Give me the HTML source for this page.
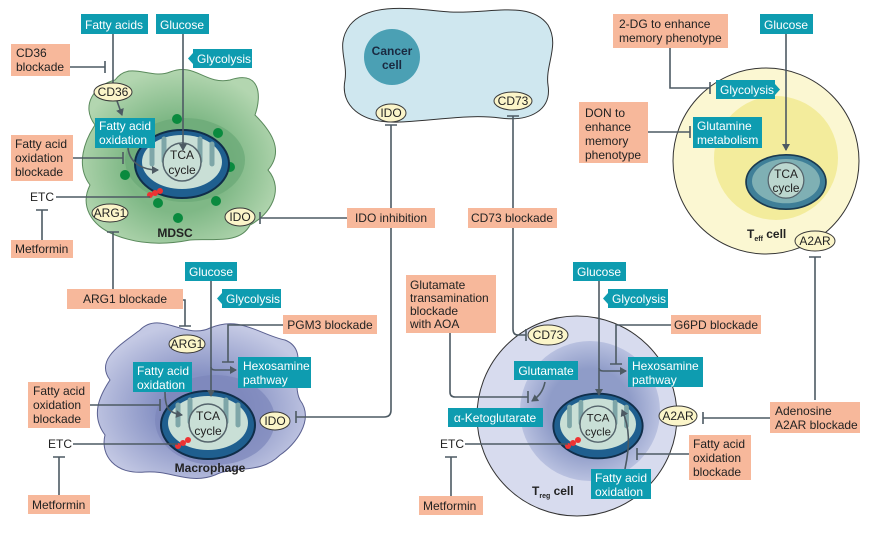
<!DOCTYPE html>
<html><head><meta charset="utf-8"><style>
html,body{margin:0;padding:0;background:#fff;}
svg{display:block;font-family:"Liberation Sans",sans-serif;}
.t{fill:#fff;font-size:12px;}
.k{fill:#222;font-size:12px;}
.tl{fill:#0e9cb0;}
.sa{fill:#f7b89b;}
.ln{stroke:#4d5a63;stroke-width:1.6;fill:none;}
.el{fill:#fbf5c9;stroke:#3a3a3a;stroke-width:1;}
</style></head><body>
<svg width="872" height="533" viewBox="0 0 872 533" xmlns="http://www.w3.org/2000/svg">
<defs>
<marker id="ar" markerWidth="8" markerHeight="8" refX="6" refY="4" orient="auto" markerUnits="userSpaceOnUse"><path d="M0,0 L7,4 L0,8 Z" fill="#4d5a63"/></marker>
<radialGradient id="gg" cx="0.5" cy="0.55" r="0.55"><stop offset="0.5" stop-color="#7fb886"/><stop offset="1" stop-color="#b3d6b0"/></radialGradient>
<radialGradient id="pg" cx="0.5" cy="0.55" r="0.55"><stop offset="0.4" stop-color="#8792c4"/><stop offset="1" stop-color="#c4c9e4"/></radialGradient>
<radialGradient id="tg" cx="0.5" cy="0.5" r="0.5"><stop offset="0.6" stop-color="#8f9cc8"/><stop offset="1" stop-color="#b9c1e0"/></radialGradient>
<g id="mito">
<ellipse cx="0" cy="0" rx="47" ry="34" fill="#1f5f8f" stroke="#102e4a" stroke-width="2"/>
<ellipse cx="0" cy="-2" rx="40" ry="27" fill="#c9dfd6"/>
<path d="M-30,-20 v20 M-18,-25 v22 M18,-25 v22 M30,-20 v20" stroke="#7ea6a8" stroke-width="5" stroke-linecap="round"/>
<circle cx="0" cy="-2" r="19" fill="#c9dfd6" stroke="#55646c" stroke-width="1.5"/>
<text x="0" y="-5" text-anchor="middle" style="font-size:12px;fill:#222">TCA</text>
<text x="0" y="10" text-anchor="middle" style="font-size:12px;fill:#222">cycle</text>
</g>
</defs>

<!-- MDSC -->
<path d="M115,80 C130,60 150,80 170,72 C195,62 205,85 230,80 C260,70 262,95 255,115 C270,130 285,150 268,170 C285,190 270,215 250,225 C240,245 210,238 190,240 C165,245 140,245 115,235 C90,225 80,205 90,185 C75,165 85,140 95,125 C80,105 95,85 115,80 Z" fill="url(#gg)" stroke="#5a8a5c" stroke-width="1"/>
<ellipse cx="185" cy="160" rx="60" ry="42" fill="#6aa876" opacity="0.7"/>
<g fill="#0a8a3e"><circle cx="177" cy="119" r="5"/><circle cx="218" cy="133" r="5"/><circle cx="230" cy="167" r="5"/><circle cx="125" cy="175" r="5"/><circle cx="158" cy="203" r="5"/><circle cx="178" cy="218" r="5"/><circle cx="216" cy="201" r="5"/></g>
<use href="#mito" transform="translate(182,164)"/>
<circle cx="150" cy="195" r="3" fill="#e33"/><circle cx="155" cy="193" r="3" fill="#e33"/><circle cx="160" cy="191" r="3" fill="#e33"/>
<text x="175" y="237" text-anchor="middle" style="font-size:12px;font-weight:bold;fill:#222">MDSC</text>

<!-- Cancer cell -->
<path d="M350,25 C370,0 420,10 450,12 C490,14 530,0 548,25 C560,45 545,65 548,85 C552,110 530,122 500,118 C470,114 440,120 400,122 C360,124 340,105 345,80 C348,60 335,45 350,25 Z" fill="#cfe7ef" stroke="#333" stroke-width="1"/>
<circle cx="392" cy="57" r="28" fill="#4ba0b4"/>
<text x="392" y="55" text-anchor="middle" style="font-size:12px;font-weight:bold;fill:#1a2a40">Cancer</text>
<text x="392" y="69" text-anchor="middle" style="font-size:12px;font-weight:bold;fill:#1a2a40">cell</text>

<!-- Teff -->
<circle cx="766" cy="161" r="93" fill="#fbf7d2" stroke="#333" stroke-width="1"/>
<circle cx="776" cy="158" r="62" fill="#f3ec9c"/>
<g transform="translate(786,182) scale(0.85)">
<ellipse cx="0" cy="0" rx="47" ry="32" fill="#3f7f98" stroke="#1a3a50" stroke-width="2"/>
<ellipse cx="0" cy="-1" rx="40" ry="26" fill="#7fb0b4"/>
<circle cx="0" cy="-2" r="21" fill="#bcd7cf" stroke="#55646c" stroke-width="1.5"/>
<text x="0" y="-5" text-anchor="middle" style="font-size:14px;fill:#222">TCA</text>
<text x="0" y="12" text-anchor="middle" style="font-size:14px;fill:#222">cycle</text>
</g>
<text x="747" y="238" style="font-size:12px;font-weight:bold;fill:#222">T<tspan dy="3" style="font-size:7px">eff</tspan><tspan dy="-3"> cell</tspan></text>

<!-- Macrophage -->
<path d="M140,330 C160,310 185,340 210,328 C240,315 260,335 285,340 C310,350 290,380 300,400 C315,420 295,445 280,455 C260,475 235,465 215,475 C190,485 170,470 145,472 C115,475 100,455 105,435 C90,415 100,395 110,380 C95,360 120,345 140,330 Z" fill="url(#pg)" stroke="#5a6090" stroke-width="1"/>
<ellipse cx="215" cy="420" rx="60" ry="45" fill="#7c86bb" opacity="0.7"/>
<use href="#mito" transform="translate(208,425)"/>
<circle cx="178" cy="446" r="3" fill="#e33"/><circle cx="183" cy="443" r="3" fill="#e33"/><circle cx="188" cy="440" r="3" fill="#e33"/>
<text x="210" y="472" text-anchor="middle" style="font-size:12px;font-weight:bold;fill:#222">Macrophage</text>

<!-- Treg -->
<circle cx="577" cy="416" r="100" fill="#d7dbee" stroke="#333" stroke-width="1"/>
<circle cx="590" cy="411" r="70" fill="url(#tg)"/>
<use href="#mito" transform="translate(598,426) scale(0.95)"/>
<circle cx="568" cy="446" r="3" fill="#e33"/><circle cx="573" cy="443" r="3" fill="#e33"/><circle cx="578" cy="440" r="3" fill="#e33"/>
<text x="532" y="495" style="font-size:12px;font-weight:bold;fill:#222">T<tspan dy="3" style="font-size:7px">reg</tspan><tspan dy="-3"> cell</tspan></text>

<!-- Lines -->
<g class="ln">
<!-- MDSC -->
<path d="M113,34 V83"/><path d="M70,67 H105 M105,61 V73"/>
<path d="M117,101 L122,115" marker-end="url(#ar)"/>
<path d="M183,34 V150" marker-end="url(#ar)"/>
<path d="M128,148 C130,165 145,170 158,170" marker-end="url(#ar)"/>
<path d="M73,158 H123 M123,152 V164"/>
<path d="M56,197 H150"/><path d="M42,240 V210 M36,210 H48"/>
<path d="M113,289 V232 M107,232 H119"/>
<path d="M347,218 H260 M260,212 V224"/>
<!-- cancer -->
<path d="M391,208 V125 M385,125 H397"/>
<path d="M513,208 V116 M507,116 H519"/>
<path d="M391,228 V410 Q391,417 384,417 H296 M296,411 V423"/>
<!-- Teff -->
<path d="M670,48 V88 H710 M710,82 V94"/>
<path d="M648,132 H690 M690,126 V138"/>
<path d="M786,34 V150" marker-end="url(#ar)"/>
<path d="M815,400 V257 M809,257 H821"/>
<!-- Macrophage -->
<path d="M183,300 H185 V326 M179,326 H191"/>
<path d="M211,280 V396" marker-end="url(#ar)"/>
<path d="M211,367 Q211,370 215,370 H236" marker-end="url(#ar)"/>
<path d="M283,325 H228 V362 M222,362 H234"/>
<path d="M165,392 C165,410 170,413 182,415" marker-end="url(#ar)"/>
<path d="M90,405 H160 M160,399 V411"/>
<path d="M73,444 H178"/><path d="M59,495 V457 M53,457 H65"/>
<!-- Treg -->
<path d="M513,228 V329 Q513,335 518,335 H526 M526,329 V341"/>
<path d="M450,333 V392 Q450,397 455,397 H528 M528,391 V403"/>
<path d="M545,382 C543,392 538,397 532,401" marker-end="url(#ar)"/>
<path d="M599,281 V395" marker-end="url(#ar)"/>
<path d="M599,368 Q599,371 603,371 H626" marker-end="url(#ar)"/>
<path d="M671,325 H616 V364 M610,364 H622"/>
<path d="M465,444 H568"/><path d="M451,496 V457 M445,457 H457"/>
<path d="M625,469 C630,445 630,428 622,410" marker-end="url(#ar)"/>
<path d="M689,454 H637 M637,448 V460"/>
<path d="M770,418 H703 M703,412 V424"/>
<path d="M256,25 V25"/>
</g>

<!-- Ellipses -->
<ellipse class="el" cx="113" cy="92" rx="19" ry="9"/><text class="k" x="113" y="96" text-anchor="middle">CD36</text>
<ellipse class="el" cx="110" cy="213" rx="18" ry="9"/><text class="k" x="110" y="217" text-anchor="middle">ARG1</text>
<ellipse class="el" cx="240" cy="217" rx="15" ry="9"/><text class="k" x="240" y="221" text-anchor="middle">IDO</text>
<ellipse class="el" cx="391" cy="113" rx="15" ry="9"/><text class="k" x="391" y="117" text-anchor="middle">IDO</text>
<ellipse class="el" cx="513" cy="101" rx="19" ry="9"/><text class="k" x="513" y="105" text-anchor="middle">CD73</text>
<ellipse class="el" cx="815" cy="241" rx="20" ry="10"/><text class="k" x="815" y="245" text-anchor="middle">A2AR</text>
<ellipse class="el" cx="187" cy="344" rx="18" ry="9"/><text class="k" x="187" y="348" text-anchor="middle">ARG1</text>
<ellipse class="el" cx="275" cy="421" rx="15" ry="9"/><text class="k" x="275" y="425" text-anchor="middle">IDO</text>
<ellipse class="el" cx="548" cy="335" rx="20" ry="10"/><text class="k" x="548" y="339" text-anchor="middle">CD73</text>
<ellipse class="el" cx="678" cy="416" rx="19" ry="10"/><text class="k" x="678" y="420" text-anchor="middle">A2AR</text>

<!-- Teal boxes -->
<g>
<rect class="tl" x="81" y="14" width="67" height="20"/><text class="t" x="114" y="29" text-anchor="middle">Fatty acids</text>
<rect class="tl" x="156" y="14" width="53" height="20"/><text class="t" x="182" y="29" text-anchor="middle">Glucose</text>
<rect class="tl" x="193" y="49" width="59" height="19"/><path class="tl" d="M193,53 L188,58.5 L193,64Z"/><text class="t" x="197" y="63">Glycolysis</text>
<rect class="tl" x="95" y="118" width="60" height="30"/><text class="t" x="99" y="130">Fatty acid</text><text class="t" x="99" y="144">oxidation</text>
<rect class="tl" x="760" y="14" width="53" height="20"/><text class="t" x="786" y="29" text-anchor="middle">Glucose</text>
<rect class="tl" x="716" y="80" width="59" height="19"/><path class="tl" d="M775,84 L780,89.5 L775,95Z"/><text class="t" x="720" y="94">Glycolysis</text>
<rect class="tl" x="693" y="117" width="69" height="31"/><text class="t" x="697" y="130">Glutamine</text><text class="t" x="697" y="144">metabolism</text>
<rect class="tl" x="185" y="262" width="52" height="19"/><text class="t" x="211" y="276" text-anchor="middle">Glucose</text>
<rect class="tl" x="222" y="289" width="59" height="19"/><path class="tl" d="M222,293 L217,298.5 L222,304Z"/><text class="t" x="226" y="303">Glycolysis</text>
<rect class="tl" x="133" y="362" width="59" height="30"/><text class="t" x="137" y="375">Fatty acid</text><text class="t" x="137" y="389">oxidation</text>
<rect class="tl" x="238" y="357" width="73" height="31"/><text class="t" x="243" y="370">Hexosamine</text><text class="t" x="243" y="384">pathway</text>
<rect class="tl" x="573" y="262" width="53" height="19"/><text class="t" x="599" y="276" text-anchor="middle">Glucose</text>
<rect class="tl" x="608" y="289" width="60" height="19"/><path class="tl" d="M608,293 L603,298.5 L608,304Z"/><text class="t" x="612" y="303">Glycolysis</text>
<rect class="tl" x="628" y="357" width="75" height="30"/><text class="t" x="632" y="370">Hexosamine</text><text class="t" x="632" y="384">pathway</text>
<rect class="tl" x="514" y="361" width="64" height="19"/><text class="t" x="546" y="375" text-anchor="middle">Glutamate</text>
<rect class="tl" x="448" y="408" width="95" height="19"/><text class="t" x="495" y="422" text-anchor="middle">α-Ketoglutarate</text>
<rect class="tl" x="591" y="469" width="60" height="30"/><text class="t" x="595" y="482">Fatty acid</text><text class="t" x="595" y="496">oxidation</text>
</g>

<!-- Salmon boxes -->
<g>
<rect class="sa" x="11" y="44" width="59" height="32"/><text class="k" x="16" y="57">CD36</text><text class="k" x="16" y="71">blockade</text>
<rect class="sa" x="11" y="135" width="62" height="46"/><text class="k" x="15" y="148">Fatty acid</text><text class="k" x="15" y="162">oxidation</text><text class="k" x="15" y="176">blockade</text>
<text class="k" x="30" y="201">ETC</text>
<rect class="sa" x="11" y="240" width="62" height="18"/><text class="k" x="15" y="253">Metformin</text>
<rect class="sa" x="347" y="208" width="88" height="20"/><text class="k" x="391" y="222" text-anchor="middle">IDO inhibition</text>
<rect class="sa" x="468" y="208" width="89" height="20"/><text class="k" x="512" y="222" text-anchor="middle">CD73 blockade</text>
<rect class="sa" x="613" y="14" width="115" height="34"/><text class="k" x="619" y="28">2-DG to enhance</text><text class="k" x="619" y="42">memory phenotype</text>
<rect class="sa" x="579" y="102" width="69" height="61"/><text class="k" x="585" y="117">DON to</text><text class="k" x="585" y="131">enhance</text><text class="k" x="585" y="145">memory</text><text class="k" x="585" y="159">phenotype</text>
<rect class="sa" x="67" y="289" width="116" height="20"/><text class="k" x="125" y="303" text-anchor="middle">ARG1 blockade</text>
<rect class="sa" x="283" y="315" width="94" height="19"/><text class="k" x="330" y="329" text-anchor="middle">PGM3 blockade</text>
<rect class="sa" x="28" y="382" width="62" height="46"/><text class="k" x="33" y="395">Fatty acid</text><text class="k" x="33" y="409">oxidation</text><text class="k" x="33" y="423">blockade</text>
<text class="k" x="48" y="448">ETC</text>
<rect class="sa" x="28" y="495" width="62" height="19"/><text class="k" x="32" y="509">Metformin</text>
<rect class="sa" x="406" y="275" width="90" height="58"/><text class="k" x="410" y="289">Glutamate</text><text class="k" x="410" y="302">transamination</text><text class="k" x="410" y="315">blockade</text><text class="k" x="410" y="328">with AOA</text>
<rect class="sa" x="671" y="315" width="90" height="19"/><text class="k" x="716" y="329" text-anchor="middle">G6PD blockade</text>
<text class="k" x="440" y="448">ETC</text>
<rect class="sa" x="419" y="496" width="64" height="19"/><text class="k" x="423" y="510">Metformin</text>
<rect class="sa" x="770" y="402" width="90" height="31"/><text class="k" x="775" y="415">Adenosine</text><text class="k" x="775" y="429">A2AR blockade</text>
<rect class="sa" x="689" y="435" width="62" height="45"/><text class="k" x="693" y="448">Fatty acid</text><text class="k" x="693" y="462">oxidation</text><text class="k" x="693" y="476">blockade</text>
</g>
</svg>
</body></html>
